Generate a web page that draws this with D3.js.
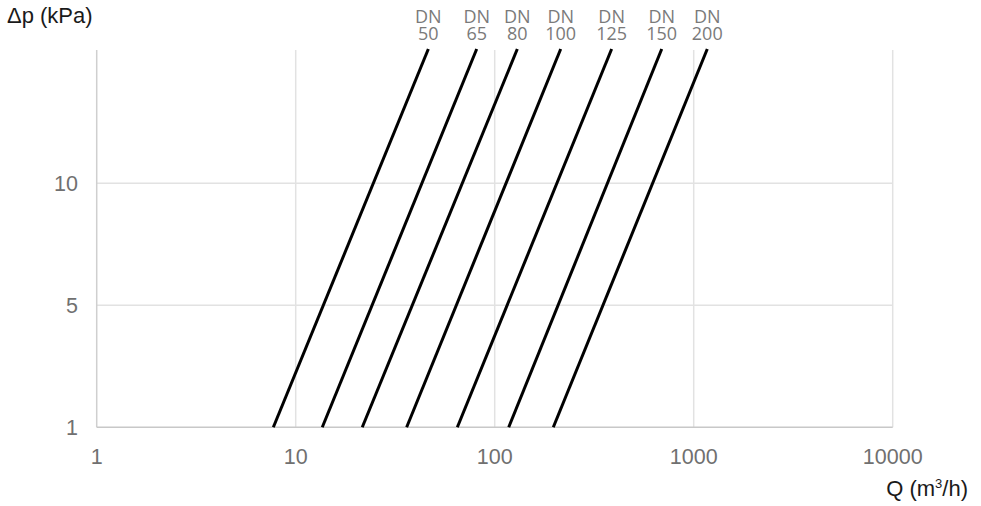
<!DOCTYPE html>
<html lang="en">
<head>
    <meta charset="UTF-8">
    <title>Pressure drop chart</title>
    <script src="https://d3js.org/d3.v7.min.js"></script>
    <style>
        * { margin: 0; padding: 0; }
        body { background: #fff; }
    </style>
</head>
<body>
    <svg width="981" height="506"></svg>
    <script>
        // data
        var sizes = ["50", "65", "80", "100", "125", "150", "200"];
        var qAtBottom = [7.72, 13.6, 21.6, 36.1, 64.9, 117.6, 197];   // Q at dp = 1
        var qAtTop = [46.4, 81.2, 129.9, 214.6, 387, 690.7, 1170];    // Q at top of chart
        var dpTop = 15.5;
        var xTicks = [1, 10, 100, 1000, 10000];
        var yTicks = [1, 5, 10];

        var svg = d3.select("svg");
        var font = "'Liberation Sans', Arial, sans-serif";

        var x = d3.scaleLog().domain([1, 10000]).range([96.7, 892.7]);
        // y axis steps are evenly spaced in the original, so use a piecewise scale
        var y = d3.scaleLinear().domain([1, 5, 10, dpTop]).range([427.3, 305.3, 183.3, 49]);

        // grid
        var grid = svg.append("g");
        grid.selectAll(".vg").data(xTicks.slice(1)).enter().append("line")
            .attr("x1", function (d) { return x(d); })
            .attr("x2", function (d) { return x(d); })
            .attr("y1", y(dpTop) + 1).attr("y2", y(1))
            .attr("stroke", "#e2e2e2").attr("stroke-width", 1.5);
        grid.selectAll(".hg").data(yTicks.slice(1)).enter().append("line")
            .attr("x1", x(1)).attr("x2", x(10000))
            .attr("y1", function (d) { return y(d); })
            .attr("y2", function (d) { return y(d); })
            .attr("stroke", "#e2e2e2").attr("stroke-width", 1.5);

        // axes lines
        svg.append("line").attr("x1", x(1)).attr("x2", x(1))
            .attr("y1", y(dpTop) + 1).attr("y2", y(1))
            .attr("stroke", "#cfcfcf").attr("stroke-width", 1.5);
        svg.append("line").attr("x1", x(1)).attr("x2", x(10000))
            .attr("y1", y(1)).attr("y2", y(1))
            .attr("stroke", "#c8c8c8").attr("stroke-width", 1.5);

        // tick labels
        svg.selectAll(".xt").data(xTicks).enter().append("text")
            .attr("x", function (d) { return x(d); })
            .attr("y", 464)
            .attr("text-anchor", "middle")
            .attr("font-family", font).attr("font-size", 21.5)
            .attr("fill", "#707070")
            .text(function (d) { return d; });
        svg.selectAll(".yt").data(yTicks).enter().append("text")
            .attr("x", 78)
            .attr("y", function (d) { return y(d); })
            .attr("dy", "0.36em")
            .attr("text-anchor", "end")
            .attr("font-family", font).attr("font-size", 21.5)
            .attr("fill", "#707070")
            .text(function (d) { return d; });

        // lines
        var line = d3.line()
            .x(function (d) { return x(d[0]); })
            .y(function (d) { return y(d[1]); });
        var series = sizes.map(function (s, i) {
            return { name: s, pts: [[qAtBottom[i], 1], [qAtTop[i], dpTop]] };
        });
        svg.selectAll(".curve").data(series).enter().append("path")
            .attr("d", function (d) { return line(d.pts); })
            .attr("fill", "none").attr("stroke", "#000").attr("stroke-width", 3);

        // DN labels, two rows over the top of each line
        var dnFont = "'Open Sans', 'DejaVu Sans', sans-serif";
        svg.selectAll(".dn1").data(series).enter().append("text")
            .attr("x", function (d) { return x(d.pts[1][0]); })
            .attr("y", 22.5)
            .attr("text-anchor", "middle")
            .attr("font-family", dnFont).attr("font-size", 18)
            .attr("fill", "#7a7a7a")
            .text("DN");
        svg.selectAll(".dn2").data(series).enter().append("text")
            .attr("x", function (d) { return x(d.pts[1][0]); })
            .attr("y", 40)
            .attr("text-anchor", "middle")
            .attr("font-family", dnFont).attr("font-size", 18)
            .attr("fill", "#7a7a7a")
            .text(function (d) { return d.name; });

        // axis titles
        svg.append("text").attr("x", 7).attr("y", 23)
            .attr("font-family", font).attr("font-size", 22).attr("fill", "#1a1a1a")
            .text("Δp (kPa)");
        var qt = svg.append("text").attr("x", 968).attr("y", 496)
            .attr("text-anchor", "end")
            .attr("font-family", font).attr("font-size", 22).attr("fill", "#1a1a1a");
        qt.append("tspan").text("Q (m");
        qt.append("tspan").attr("font-size", 13).attr("dy", -8).text("3");
        qt.append("tspan").attr("dy", 8).text("/h)");
    </script>
</body>
</html>
